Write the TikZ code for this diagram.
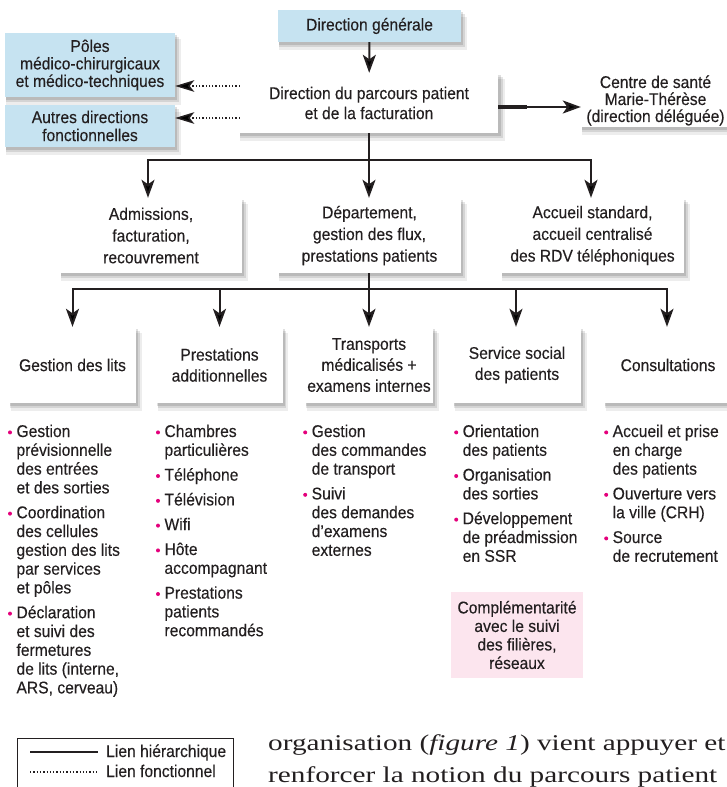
\documentclass[tikz,border=0pt]{standalone}
\usepackage{fontspec}
\setmainfont{Liberation Sans}[FakeStretch=0.92,FakeBold=0.25]
\newfontfamily\serifbody{Liberation Serif}[FakeStretch=1.3]
\usetikzlibrary{arrows.meta,shadows}
\definecolor{boxblue}{RGB}{198,227,241}
\definecolor{boxpink}{RGB}{252,229,238}
\definecolor{mag}{RGB}{228,0,124}
\definecolor{ink}{RGB}{35,31,32}
\newcommand\bul{\makebox[8.5pt][l]{\tikz[baseline=0pt]\fill[mag] (2.2pt,4.6pt) circle (2pt);}}
\newcommand\cnt{\hspace*{8.5pt}}
\tikzset{
  shad/.style={
    general shadow={fill=black,opacity=.12,shadow xshift=1.5pt,shadow yshift=-2.5pt,shadow scale=1.01},
    general shadow={fill=black,opacity=.10,shadow xshift=2.5pt,shadow yshift=-4.5pt,shadow scale=1.02},
    general shadow={fill=black,opacity=.07,shadow xshift=3.5pt,shadow yshift=-7pt,shadow scale=1.03}},
  bx/.style={shad, fill=white, align=center, inner sep=0pt, text=ink},
  bluebx/.style={bx, fill=boxblue},
  fs/.style={font=\fontsize{17}{#1}\selectfont},
  hier/.style={line width=2pt, draw=ink},
  arr/.style={hier, -{Stealth[length=18pt,width=13pt,inset=4.5pt]}},
  func/.style={line width=1.5pt, draw=ink, dash pattern=on 1.3pt off 2pt},
  farr/.style={func, -{Stealth[length=19pt,width=11.5pt,inset=4.5pt]}},
  bullets/.style={anchor=north west, align=left, inner sep=0pt, text=ink, fs=18.8},
  legtext/.style={anchor=base west, inner sep=0pt, text=ink, fs=19},
  bodytext/.style={anchor=base west, inner sep=0pt, text=ink, font=\serifbody\fontsize{22.5}{24}\selectfont},
}
\begin{document}
\begin{tikzpicture}[x=1pt,y=-1pt]
\useasboundingbox (0,0) rectangle (726,787);
\fill[white] (0,0) rectangle (726,787);

% top level
\node[bluebx, fs=19, minimum width=183pt, minimum height=32pt] (dg) at (369.5,26) {Direction générale};
\node[bx, fs=20, minimum width=258pt, minimum height=60pt] (dp) at (369,103) {Direction du parcours patient\\et de la facturation};
\node[bluebx, fs=17.5, minimum width=170pt, minimum height=64pt] (poles) at (90,65) {Pôles\\médico-chirurgicaux\\et médico-techniques};
\node[bluebx, fs=18, minimum width=170pt, minimum height=42pt] (autres) at (90,126) {Autres directions\\fonctionnelles};
\node[bx, fs=17, minimum width=149pt, minimum height=53pt] (centre) at (655.5,100.5) {Centre de santé\\Marie-Thérèse\\(direction déléguée)};

% level 2
\node[bx, fs=21.7, minimum width=182pt, minimum height=75pt] (adm) at (151,235.5) {Admissions,\\facturation,\\recouvrement};
\node[bx, fs=21.7, minimum width=183pt, minimum height=75pt] (dep) at (369.5,235.5) {Département,\\gestion des flux,\\prestations patients};
\node[bx, fs=21.7, minimum width=183pt, minimum height=75pt] (acc) at (592.5,235.5) {Accueil standard,\\accueil centralisé\\des RDV téléphoniques};

% level 3
\node[bx, fs=21, minimum width=127pt, minimum height=76pt] (gl) at (72.5,365) {Gestion des lits};
\node[bx, fs=21, minimum width=126pt, minimum height=76pt] (pa) at (219.5,365) {Prestations\\additionnelles};
\node[bx, fs=21, minimum width=128pt, minimum height=76pt] (tr) at (369,365) {Transports\\médicalisés +\\examens internes};
\node[bx, fs=21, minimum width=128pt, minimum height=76pt] (ss) at (517,365) {Service social\\des patients};
\node[bx, fs=21, minimum width=128pt, minimum height=76pt] (co) at (668,365) {Consultations};

% bullet lists
\node[bullets] (l1) at (7.8,424.5) {\bul Gestion\\
\cnt prévisionnelle\\
\cnt des entrées\\
\cnt et des sorties\\[6pt]
\bul Coordination\\
\cnt des cellules\\
\cnt gestion des lits\\
\cnt par services\\
\cnt et pôles\\[6pt]
\bul Déclaration\\
\cnt et suivi des\\
\cnt fermetures\\
\cnt de lits (interne,\\
\cnt ARS, cerveau)};
\node[bullets] (l2) at (155.8,424.5) {\bul Chambres\\
\cnt particulières\\[6pt]
\bul Téléphone\\[6pt]
\bul Télévision\\[6pt]
\bul Wifi\\[6pt]
\bul Hôte\\
\cnt accompagnant\\[6pt]
\bul Prestations\\
\cnt patients\\
\cnt recommandés};
\node[bullets] (l3) at (303,424.5) {\bul Gestion\\
\cnt des commandes\\
\cnt de transport\\[6pt]
\bul Suivi\\
\cnt des demandes\\
\cnt d'examens\\
\cnt externes};
\node[bullets] (l4) at (454,424.5) {\bul Orientation\\
\cnt des patients\\[6pt]
\bul Organisation\\
\cnt des sorties\\[6pt]
\bul Développement\\
\cnt de préadmission\\
\cnt en SSR};
\node[bullets] (l5) at (604,424.5) {\bul Accueil et prise\\
\cnt en charge\\
\cnt des patients\\[6pt]
\bul Ouverture vers\\
\cnt la ville (CRH)\\[6pt]
\bul Source\\
\cnt de recrutement};

% pink box
\node[fill=boxpink, align=center, inner sep=0pt, text=ink, fs=18.5, minimum width=132pt, minimum height=86pt] (compl) at (517,635) {Complémentarité\\avec le suivi\\des filières,\\réseaux};

% connectors
\draw[arr] (dg) -- (dp);
\draw[farr] ([yshift=17pt]dp.west) -- ([yshift=17pt]dp.west -| poles.east);
\draw[farr] ([yshift=-15pt]dp.west) -- ([yshift=-15pt]dp.west -| autres.east);
\draw[line width=4pt, draw=ink] ([yshift=-4pt]dp.east) -- ++(29,0);
\draw[arr] ([yshift=-4pt]dp.east) -- ([yshift=-4pt]dp.east -| centre.west);

\coordinate (b1) at (369,160);
\draw[hier] (dp.south) -- (b1);
\draw[arr] (b1) -| ([xshift=-3pt]adm.north);
\draw[arr] (b1) -- (dep.north -| b1);
\draw[arr] (b1) -| ([xshift=-1.5pt]acc.north);

\coordinate (b2) at (369,289);
\draw[hier] (dep.south -| b2) -- (b2);
\draw[arr] (b2) -| (gl.north);
\draw[arr] (b2) -| (pa.north);
\draw[arr] (b2) -- (tr.north);
\draw[arr] (b2) -| ([xshift=-1pt]ss.north);
\draw[arr] (b2) -| ([xshift=-1pt]co.north);

% legend
\draw[line width=0.8pt, draw=ink] (17,800) -- (17,738) -- (233,738) -- (233,800);
\coordinate (h1) at (30,752);
\coordinate (h2) at (98,752);
\coordinate (f1) at (30,772);
\coordinate (f2) at (98,772);
\draw[hier] (h1) -- (h2);
\draw[func] (f1) -- (f2);
\node[legtext] (lh) at (106,757) {Lien hiérarchique};
\node[legtext] (lf) at (106,777) {Lien fonctionnel};

% body text
\node[bodytext] (body1) at (268,750) {organisation (\textit{figure 1}) vient appuyer et};
\node[bodytext] (body2) at (268,782) {renforcer la notion du parcours patient};
\end{tikzpicture}
\end{document}
